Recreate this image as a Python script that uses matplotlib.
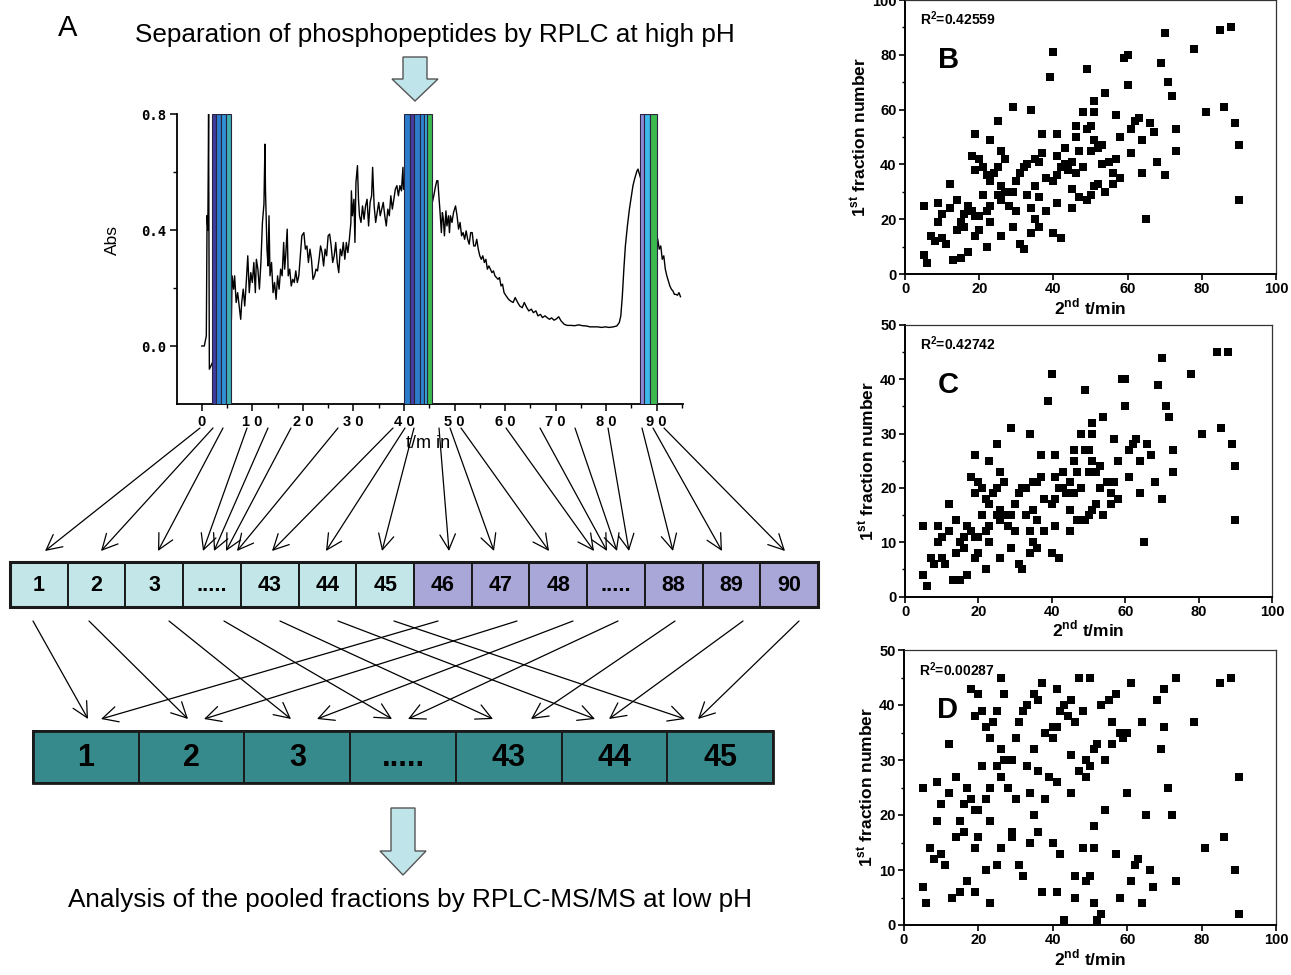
import numpy as np
import matplotlib
matplotlib.use("Agg")
import matplotlib.pyplot as plt
from matplotlib.patches import Rectangle, Polygon
from matplotlib.ticker import MultipleLocator, FixedLocator

plt.rcParams['font.family'] = ['Liberation Sans', 'DejaVu Sans']
plt.rcParams['mathtext.fontset'] = 'custom'
plt.rcParams['mathtext.rm'] = 'Liberation Sans:bold'
plt.rcParams['mathtext.bf'] = 'Liberation Sans:bold'

NARROW = ['Liberation Sans Narrow', 'Liberation Sans']

# ---- chromatogram (high pH RPLC) ----
chrom_t = [0, 0.5, 0.9, 1.05, 1.2, 1.35, 1.5, 2.3,
           5.86, 6.0, 6.3, 6.5, 6.8, 7.1, 7.4, 7.7, 7.9, 8.2, 8.5, 8.8, 9.1, 9.4, 9.7,
           10.0, 10.3, 10.6, 10.8, 11.1, 11.4, 11.7, 12.0, 12.3, 12.5, 12.6, 12.9, 13.1,
           13.3, 13.5, 13.8, 14.1, 14.4, 14.7, 15.0, 15.3, 15.6, 15.9, 16.2, 16.4, 16.6,
           16.9, 17.1, 17.4, 17.7, 18.0, 18.3, 18.6, 18.9, 19.2, 19.5, 19.8, 20.2, 20.5,
           20.8, 21.1, 21.4, 21.7, 22.0, 22.3, 22.6, 22.9, 23.2, 23.5, 23.8, 24.1, 24.4,
           24.7, 25.0, 25.3, 25.6, 25.9, 26.2, 26.5, 26.8, 27.1, 27.4, 27.7, 28.0, 28.3,
           28.6, 28.9, 29.2, 29.5, 29.6, 29.8, 30.1, 30.3, 30.5, 30.8, 31.0, 31.2, 31.5,
           31.8, 32.1, 32.4, 32.7, 33.0, 33.3, 33.6, 33.8, 34.1, 34.4, 34.7, 35.0, 35.3,
           35.6, 35.9, 36.2, 36.5, 36.8, 37.1, 37.4, 37.7, 38.0, 38.3, 38.6, 38.9, 39.2,
           39.5, 39.8, 39.9,
           45.6, 45.9, 46.2, 46.5, 46.7, 46.9, 47.1, 47.4, 47.6, 47.8, 48.0, 48.3, 48.5,
           48.8, 49.0, 49.2, 49.5, 49.8, 50.2, 50.5, 50.8, 51.1, 51.4, 51.7, 52.0, 52.3,
           52.6, 52.9, 53.2, 53.5, 53.8, 54.1, 54.4, 54.7, 55.0, 55.3, 55.6, 55.9, 56.2,
           56.5, 56.8, 57.1, 57.4, 57.7, 58.0, 58.3, 58.6, 58.9, 59.2, 59.5, 59.8, 60.2,
           60.7, 61.1, 61.6, 62.0, 62.5, 62.9, 63.4, 63.8, 64.3, 64.7, 65.2, 65.6, 66.1,
           66.5, 67.0, 67.4, 67.9, 68.3, 68.8, 69.2, 69.7, 70.2, 70.6, 71.1, 71.7, 72.3,
           73.1, 73.8, 74.6, 75.3, 76.1, 76.8, 77.6, 78.3, 79.1, 79.8, 80.6, 81.4, 82.1,
           82.6, 82.9, 83.2, 83.5, 83.8, 84.2, 84.6, 85.0, 85.3, 85.7, 86.1, 86.3,
           90.2, 90.5, 90.8, 91.1, 91.4, 91.7, 92.0, 92.3, 92.6, 92.9, 93.2, 93.5, 93.8,
           94.1, 94.4, 94.7]
chrom_abs = [0.0, 0.0, 0.035, 0.45, 0.40, 0.80, -0.08, -0.05,
             0.092, 0.242, 0.196, 0.242, 0.150, 0.184, 0.138, 0.092, 0.150, 0.196, 0.138,
             0.219, 0.311, 0.184, 0.253,
             0.219, 0.288, 0.184, 0.299, 0.265, 0.196, 0.288, 0.426, 0.489, 0.696, 0.541,
             0.334, 0.276,
             0.449, 0.242, 0.288, 0.184, 0.219, 0.161, 0.242, 0.196, 0.265, 0.242, 0.357,
             0.265, 0.311,
             0.403, 0.242, 0.265, 0.207, 0.230, 0.219, 0.259, 0.219, 0.242, 0.311, 0.380,
             0.391, 0.334,
             0.345, 0.288, 0.334, 0.299, 0.230, 0.242, 0.265, 0.259, 0.299, 0.345, 0.322,
             0.276, 0.334,
             0.311, 0.380, 0.386, 0.345, 0.288, 0.311, 0.357, 0.288, 0.253, 0.334, 0.311,
             0.357, 0.299,
             0.357, 0.322, 0.368, 0.426, 0.535, 0.449, 0.506, 0.357, 0.564, 0.622, 0.506,
             0.449, 0.426,
             0.483, 0.437, 0.483, 0.506, 0.414, 0.495, 0.518, 0.616, 0.483, 0.426, 0.460,
             0.495, 0.449,
             0.472, 0.495, 0.449, 0.414, 0.472, 0.449, 0.518, 0.472, 0.506, 0.541, 0.553,
             0.518, 0.553,
             0.535, 0.616, 0.541,
             0.495, 0.518, 0.547, 0.570, 0.570, 0.518, 0.472, 0.391, 0.460, 0.437, 0.380,
             0.466, 0.414,
             0.449, 0.391, 0.449, 0.426, 0.460, 0.483, 0.449, 0.403, 0.426, 0.380, 0.391,
             0.368, 0.397,
             0.368, 0.351, 0.391, 0.391, 0.345, 0.345, 0.368, 0.334, 0.311, 0.299, 0.311,
             0.288, 0.299,
             0.265, 0.276, 0.265, 0.253, 0.259, 0.242, 0.236, 0.230, 0.236, 0.207, 0.213,
             0.184, 0.173,
             0.161, 0.155, 0.150, 0.167, 0.150, 0.138, 0.132, 0.150, 0.132, 0.121, 0.127,
             0.115, 0.121,
             0.104, 0.109, 0.098, 0.104, 0.098, 0.092, 0.097, 0.089, 0.094, 0.101, 0.086,
             0.075, 0.071,
             0.071, 0.070, 0.073, 0.070, 0.069, 0.066, 0.066, 0.066, 0.064, 0.066, 0.064,
             0.066, 0.069,
             0.081, 0.104, 0.173, 0.265, 0.345, 0.414, 0.472, 0.518, 0.553, 0.581, 0.604,
             0.610,
             0.368, 0.334, 0.345, 0.299, 0.311, 0.265, 0.242, 0.224, 0.207, 0.196, 0.190,
             0.178, 0.178,
             0.175, 0.184, 0.170]

# collected fraction windows (min) shown as coloured strips
strip_start = [2.0, 2.9, 3.8, 4.8, 40.0, 41.2, 41.9, 43.2, 44.0, 44.6, 86.6, 87.4, 88.6]
strip_end = [2.9, 3.8, 4.8, 5.8, 41.2, 41.9, 43.2, 44.0, 44.6, 45.6, 87.4, 88.6, 90.0]
strip_colors = ['#3b3e9c', '#2b7ccb', '#2f93d6', '#3fb0b2',
                '#2b7ccb', '#4a3fa3', '#2b7ccb', '#2a86d0', '#37a9dc', '#3cba4e',
                '#8e8bd8', '#3cb9ea', '#3cba4e']

# fraction boxes
first_labels = ['1', '2', '3', '.....', '43', '44', '45',
                '46', '47', '48', '.....', '88', '89', '90']
pooled_labels = ['1', '2', '3', '.....', '43', '44', '45']

# ---- scatter data: 2nd dimension time vs 1st dimension fraction ----
x_time = [5, 5, 6, 7, 8, 9, 9, 10, 10, 11, 12, 12, 13, 14, 14, 15, 15, 16, 16, 17, 17, 18, 18,
          19, 19, 19, 19, 20, 20, 20, 21, 21, 22, 22, 22, 23, 23, 23, 23, 24, 25, 25, 25, 26, 26, 26, 26, 27, 27, 28, 29, 29, 29, 30, 30,
          31, 31, 32, 32, 33, 33, 34, 34, 34, 35, 35, 35, 36, 36, 36, 37, 37, 38, 38, 39, 40, 40, 40, 41, 41, 41, 41, 42, 42, 43, 43, 44, 45, 45, 45,
          46, 46, 46, 47, 47, 48, 48, 49, 49, 49, 50, 50, 50, 51, 51, 51, 51, 52, 52, 53, 53, 54, 54, 55, 56, 56, 57, 57, 58, 58, 59, 60, 60,
          61, 61, 62, 63, 64, 64, 65, 66, 67, 68, 69, 70, 70, 71, 72, 73, 73, 78, 81, 85, 86, 88, 89, 90, 90]
frac_b = [25, 7, 4, 14, 12, 26, 19, 22, 13, 11, 33, 24, 5, 27, 16, 19, 6, 22, 17, 25, 8, 23, 43,
          51, 38, 21, 14, 21, 42, 16, 39, 29, 36, 23, 10, 49, 34, 25, 19, 37, 56, 39, 29, 45, 32, 27, 14, 42, 30, 25, 61, 30, 17, 34, 23,
          37, 11, 39, 9, 40, 29, 60, 24, 15, 42, 32, 20, 41, 28, 17, 51, 44, 35, 23, 72, 81, 34, 15, 51, 43, 36, 26, 39, 13, 46, 40, 38, 41, 31, 24,
          54, 50, 37, 45, 28, 59, 39, 75, 53, 27, 54, 45, 29, 63, 59, 49, 32, 46, 33, 47, 40, 66, 30, 41, 37, 33, 58, 42, 50, 35, 79, 80, 69,
          53, 44, 56, 57, 49, 37, 20, 55, 52, 41, 77, 88, 36, 70, 65, 53, 45, 82, 59, 89, 61, 90, 55, 47, 27]
frac_c = [13, 4, 2, 7, 6, 13, 10, 11, 7, 6, 17, 12, 3, 14, 8, 10, 3, 11, 9, 13, 4, 12, 22,
          26, 19, 11, 7, 11, 21, 8, 20, 15, 18, 12, 5, 25, 17, 13, 10, 19, 28, 20, 15, 23, 16, 14, 7, 21, 15, 13, 31, 15, 9, 17, 12,
          19, 6, 20, 5, 20, 15, 30, 12, 8, 21, 16, 10, 21, 14, 9, 26, 22, 18, 12, 36, 41, 17, 8, 26, 22, 18, 13, 20, 7, 23, 20, 19, 21, 16, 12,
          27, 25, 19, 23, 14, 30, 20, 38, 27, 14, 27, 23, 15, 32, 30, 25, 16, 23, 17, 24, 20, 33, 15, 21, 19, 17, 29, 21, 25, 18, 40, 40, 35,
          27, 22, 28, 29, 25, 19, 10, 28, 26, 21, 39, 44, 18, 35, 33, 27, 23, 41, 30, 45, 31, 45, 28, 24, 14]
frac_d = [25, 7, 4, 14, 12, 26, 19, 22, 13, 11, 33, 24, 5, 27, 16, 19, 6, 22, 17, 25, 8, 23, 43,
          6, 38, 21, 14, 21, 42, 16, 39, 29, 36, 23, 10, 4, 34, 25, 19, 37, 11, 39, 29, 45, 32, 27, 14, 42, 30, 25, 16, 30, 17, 34, 23,
          37, 11, 39, 9, 40, 29, 15, 24, 15, 42, 32, 20, 41, 28, 17, 6, 44, 35, 23, 27, 36, 34, 15, 6, 43, 36, 26, 39, 13, 1, 40, 38, 41, 31, 24,
          9, 5, 37, 45, 28, 14, 39, 30, 8, 27, 9, 45, 29, 18, 14, 4, 32, 1, 33, 2, 40, 21, 30, 41, 37, 33, 13, 42, 5, 35, 34, 35, 24,
          8, 44, 11, 12, 4, 37, 20, 10, 7, 41, 32, 43, 36, 25, 20, 8, 45, 37, 14, 44, 16, 45, 10, 2, 27]
r2_values = ['0.42559', '0.42742', '0.00287']
panel_names = ['B', 'C', 'D']

W, H = 1291, 975
fig = plt.figure(figsize=(W / 100, H / 100), dpi=100)


def fig_rect(x0, y0, x1, y1):
    # pixel box (top-left origin) -> figure fraction rect
    return [x0 / W, 1 - y1 / H, (x1 - x0) / W, (y1 - y0) / H]


# ---------------- chromatogram ----------------
ax = fig.add_axes(fig_rect(177, 114, 683, 404))
ax.plot(chrom_t, chrom_abs, color='black', lw=1.0, zorder=2)
for s, e, c in zip(strip_start, strip_end, strip_colors):
    ax.bar(s, 1.0, bottom=-0.2, width=e - s, align='edge', color=c,
           edgecolor='#2a2340', linewidth=0.8, zorder=3)
ax.set_xlim(-4.9, 95.2)
ax.set_ylim(-0.2, 0.8)
for sp in ['top', 'right']:
    ax.spines[sp].set_visible(False)
for sp in ['left', 'bottom']:
    ax.spines[sp].set_linewidth(1.3)
xt = list(range(0, 91, 10))
ax.set_xticks(xt)
ax.set_xticklabels([' '.join(str(v)) for v in xt], fontweight='bold',
                   fontsize=10.5, family=NARROW)
ax.xaxis.set_minor_locator(FixedLocator([v + 5 for v in range(-10, 91, 10)]))
ax.set_yticks([0.0, 0.4, 0.8])
ax.set_yticklabels(['0.0', '0.4', '0.8'], fontweight='bold', fontsize=10,
                   family=['DejaVu Sans Mono'])
ax.yaxis.set_minor_locator(FixedLocator([0.2, 0.6]))
ax.tick_params(which='major', direction='out', length=5, width=1.1, pad=3)
ax.tick_params(which='minor', direction='out', length=3, width=1.0)
ax.patch.set_alpha(0)

# ---------------- scatter panels ----------------
panel_boxes = [(905, 0, 1276, 274), (905, 325, 1272, 596.5), (904, 650, 1276, 925)]
panel_ydata = [frac_b, frac_c, frac_d]
panel_ymax = [100, 50, 50]
for box, ydata, ymax, name, r2 in zip(panel_boxes, panel_ydata, panel_ymax,
                                      panel_names, r2_values):
    sa = fig.add_axes(fig_rect(*box))
    sa.scatter(x_time, ydata, marker='s', s=30, color='black', linewidths=0)
    sa.set_xlim(0, 100)
    sa.set_ylim(0, ymax)
    sa.xaxis.set_major_locator(MultipleLocator(20))
    sa.yaxis.set_major_locator(MultipleLocator(ymax / 5))
    sa.yaxis.set_minor_locator(MultipleLocator(ymax / 10))
    sa.tick_params(which='major', direction='out', length=4, width=1.2, pad=2,
                   labelsize=10.5)
    sa.tick_params(which='minor', direction='out', length=2.5, width=1.0)
    for lab in sa.get_xticklabels() + sa.get_yticklabels():
        lab.set_fontweight('bold')
    for sp in ['left', 'bottom']:
        sa.spines[sp].set_linewidth(1.4)
    for sp in ['top', 'right']:
        sa.spines[sp].set_linewidth(0.9)
        sa.spines[sp].set_color('#333333')
    sa.set_xlabel(r'2$^{\mathbf{nd}}$ t/min', fontsize=12.5, fontweight='bold',
                  labelpad=0)
    sa.set_ylabel(r'1$^{\mathbf{st}}$ fraction number', fontsize=12.5,
                  fontweight='bold', labelpad=2)
    sa.text(0.04, 0.93, r'R$^{\mathbf{2}}$=' + r2, transform=sa.transAxes,
            fontsize=10, fontweight='bold', va='center')
    sa.text(0.09, 0.78, name, transform=sa.transAxes, fontsize=21,
            fontweight='bold', va='center')

# ---------------- diagram overlay (pixel coordinates) ----------------
ov = fig.add_axes([0, 0, 1, 1], zorder=10)
ov.set_xlim(0, W)
ov.set_ylim(H, 0)
ov.axis('off')
ov.patch.set_alpha(0)

ov.text(68, 28, 'A', fontsize=21, ha='center', va='center')
ov.text(435, 35, 'Separation of phosphopeptides by RPLC at high pH',
        fontsize=18.8, ha='center', va='center')
ov.text(410, 900, 'Analysis of the pooled fractions by RPLC-MS/MS at low pH',
        fontsize=18.8, ha='center', va='center')
ov.text(112, 240, 'Abs', fontsize=12.5, rotation=90, ha='center', va='center')
ov.text(428, 443, 't/m in', fontsize=13, ha='center', va='center', family=NARROW)


def block_arrow(cx, y0, y1, head_y, shaft_hw=12, head_hw=23):
    pts = [(cx - shaft_hw, y0), (cx + shaft_hw, y0), (cx + shaft_hw, head_y),
           (cx + head_hw, head_y), (cx, y1), (cx - head_hw, head_y),
           (cx - shaft_hw, head_y)]
    ov.add_patch(Polygon(pts, closed=True, facecolor='#bfe5ea',
                         edgecolor='#555555', lw=1.0))


block_arrow(415, 57, 101, 79)
block_arrow(403, 808, 875, 851)

# first-dimension fraction boxes
row_x0, row_x1, row_y0, row_y1 = 10, 818, 562, 607
bw = (row_x1 - row_x0) / len(first_labels)
for i, lab in enumerate(first_labels):
    fc = '#c3e7e9' if i < 7 else '#a9a6d8'
    ov.add_patch(Rectangle((row_x0 + i * bw, row_y0), bw, row_y1 - row_y0,
                           facecolor=fc, edgecolor='#1a1a1a', lw=1.4))
    ov.text(row_x0 + (i + 0.5) * bw, (row_y0 + row_y1) / 2 + 1, lab,
            fontsize=15.5, fontweight='bold', ha='center', va='center', family=NARROW)
ov.add_patch(Rectangle((row_x0, row_y0), row_x1 - row_x0, row_y1 - row_y0,
                       fill=False, edgecolor='#1a1a1a', lw=2.2))

# pooled boxes
pool_x0, pool_x1, pool_y0, pool_y1 = 33, 773, 731, 783
pw = (pool_x1 - pool_x0) / len(pooled_labels)
for i, lab in enumerate(pooled_labels):
    ov.add_patch(Rectangle((pool_x0 + i * pw, pool_y0), pw, pool_y1 - pool_y0,
                           facecolor='#378a8c', edgecolor='#1a1a1a', lw=1.4))
    ov.text(pool_x0 + (i + 0.5) * pw, (pool_y0 + pool_y1) / 2 + 1, lab,
            fontsize=22, fontweight='bold', ha='center', va='center', family=NARROW)
ov.add_patch(Rectangle((pool_x0, pool_y0), pool_x1 - pool_x0, pool_y1 - pool_y0,
                       fill=False, edgecolor='#1a1a1a', lw=2.0))

# arrows: chromatogram -> fraction boxes
top_start = [200, 213, 223, 247, 268, 291, 338, 393, 405, 414,
             439, 450, 461, 506, 540, 575, 608, 642, 653, 664]
top_end = [45, 101, 158, 203, 214, 226, 237, 272, 326, 382,
           449, 494, 549, 594, 607, 617, 629, 673, 722, 785]
# arrows: fraction boxes -> pooled boxes
low_start = [33, 89, 169, 224, 280, 338, 394, 438, 517, 573, 618, 675, 743, 799]
low_end = [88, 188, 291, 392, 493, 595, 685, 101, 204, 317, 408, 531, 609, 698]

aprops = dict(arrowstyle='->,head_length=0.55,head_width=0.28', lw=0.9,
              color='black', shrinkA=0, shrinkB=0, mutation_scale=20)
for s, e in zip(top_start, top_end):
    ov.annotate('', xy=(e, 551), xytext=(s, 428), arrowprops=aprops)
for s, e in zip(low_start, low_end):
    ov.annotate('', xy=(e, 719), xytext=(s, 621), arrowprops=aprops)

fig.savefig('out.png', dpi=100)
